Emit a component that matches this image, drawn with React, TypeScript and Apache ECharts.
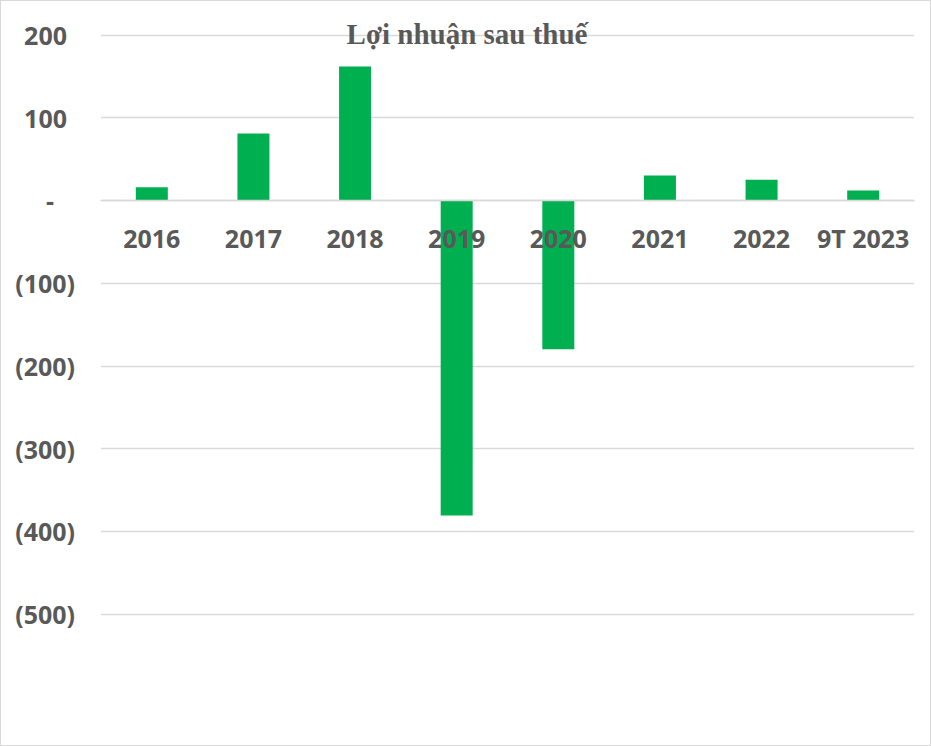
import React, { useEffect, useRef } from "react";
import * as echarts from "echarts";

const titleText = "Lợi nhuận sau thuế";
const categories = ["2016", "2017", "2018", "2019", "2020", "2021", "2022", "9T 2023"];
const profitValues = [16, 81, 162, -381, -180, 30, 25, 12];
const yMin = -500;
const yMax = 200;
const yInterval = 100;

const TEXT = "#595959";
const GRID = "#d9d9d9";
const BAR = "#00B050";

const CHART_H = 744;
const GRID_TOP = 34;
const GRID_BOTTOM = 131;

function fmtY(v: number): string {
  if (v === 0) return "{d|-}{pd| }";
  if (v < 0) return "{v|(" + Math.abs(v).toLocaleString("en-US") + ")}";
  return "{v|" + v.toLocaleString("en-US") + "}{p| }";
}

export default function App() {
  const ref = useRef<HTMLDivElement>(null);
  useEffect(() => {
    if (!ref.current) return;
    const chart = echarts.init(ref.current, null, { renderer: "svg" });
    const labelFont = {
      fontFamily: "'Open Sans', sans-serif",
      fontWeight: "bold" as const,
      fontSize: 25,
      color: TEXT,
    };
    const gridH = CHART_H - GRID_TOP - GRID_BOTTOM;
    const zeroOffset = -(gridH * (0 - yMin)) / (yMax - yMin);
    chart.setOption({
      animation: false,
      backgroundColor: "#ffffff",
      title: {
        text: titleText,
        left: 466,
        textAlign: "center",
        top: 18,
        padding: 0,
        textStyle: {
          fontFamily: "'Liberation Serif', 'Times New Roman', serif",
          fontWeight: "bold",
          fontSize: 29,
          lineHeight: 29,
          color: TEXT,
        },
      },
      grid: {
        left: 100,
        right: 16,
        top: GRID_TOP,
        bottom: GRID_BOTTOM,
        containLabel: false,
      },
      xAxis: {
        type: "category",
        data: categories,
        position: "bottom",
        offset: zeroOffset,
        z: 5,
        axisLine: { show: true, onZero: false, lineStyle: { color: GRID, width: 1.3 } },
        axisTick: { show: false },
        splitLine: { show: false },
        axisLabel: {
          margin: 25,
          interval: 0,
          fontFamily: "'Open Sans', sans-serif",
          fontWeight: "bold",
          fontSize: 25,
          lineHeight: 25,
          color: TEXT,
        },
      },
      yAxis: {
        type: "value",
        min: yMin,
        max: yMax,
        interval: yInterval,
        axisLine: { show: false },
        axisTick: { show: false },
        splitLine: { show: true, lineStyle: { color: GRID, width: 1.3 } },
        axisLabel: {
          margin: 26,
          align: "right",
          formatter: fmtY,
          rich: {
            v: { ...labelFont },
            d: { ...labelFont },
            p: { ...labelFont, width: 8 },
            pd: { ...labelFont, width: 21 },
          },
        },
      },
      series: [
        {
          type: "bar",
          data: profitValues,
          barWidth: 32,
          itemStyle: { color: BAR },
          z: 2,
        },
      ],
    });
    return () => chart.dispose();
  }, []);
  return (
    <div
      style={{
        position: "fixed",
        left: 0,
        top: 0,
        width: 931,
        height: 746,
        boxSizing: "border-box",
        border: "1px solid #d9d9d9",
        background: "#fff",
      }}
    >
      <div ref={ref} style={{ width: 929, height: CHART_H }} />
    </div>
  );
}
